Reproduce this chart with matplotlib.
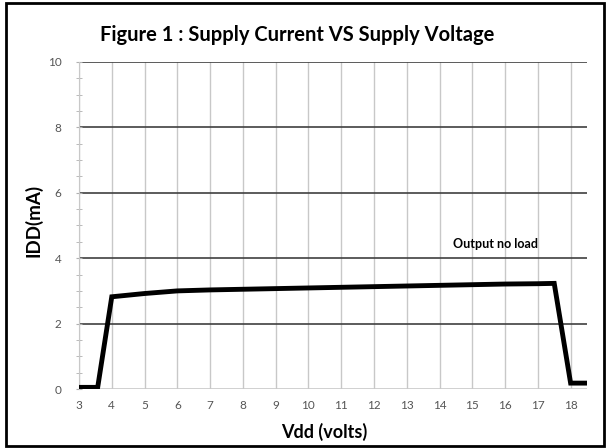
import matplotlib
matplotlib.use("Agg")
import matplotlib.pyplot as plt
from matplotlib.patches import Rectangle

# data
vdd = [3.0, 3.57, 4.0, 5.0, 6.0, 7.0, 8.0, 9.0, 10.0, 11.0, 12.0, 13.0, 14.0, 15.0, 16.0, 17.0, 17.5, 18.0, 18.5]
idd = [0.05, 0.05, 2.82, 2.92, 3.0, 3.03, 3.05, 3.07, 3.09, 3.11, 3.13, 3.15, 3.17, 3.19, 3.21, 3.22, 3.23, 0.18, 0.18]
x_ticks = list(range(3, 19))
y_ticks = [0, 2, 4, 6, 8, 10]

plt.rcParams['font.family'] = ['Lato', 'DejaVu Sans']

fig = plt.figure(figsize=(6.11, 4.48), dpi=100)
ax = fig.add_axes([79/611, 1-389/448, 508/611, 327/448])

# grid
for x in x_ticks:
    ax.axvline(x, color="#c8c8c8", lw=1, zorder=1)
for y in y_ticks:
    ax.axhline(y, color="#404040" if y > 0 else "#c8c8c8", lw=1.2, zorder=1)

ax.plot(vdd, idd, color="black", lw=3.5, solid_joinstyle="miter", zorder=3)

ax.set_xlim(3, 18.5)
ax.set_ylim(0, 10)
ax.set_xticks(x_ticks)
ax.set_yticks(y_ticks)
ax.set_yticks([v/2 for v in range(21)], minor=True)
ax.tick_params(axis="x", length=0, pad=8, labelsize=8.5, labelcolor="#555555")
ax.tick_params(axis="y", which="both", length=5, direction="inout", color="#b0b0b0", pad=10, labelsize=8.5, labelcolor="#555555")
for s in ["top", "right", "bottom"]:
    ax.spines[s].set_visible(False)
ax.spines["left"].set_color("#c8c8c8")

ax.text(14.4, 4.43, "Output no load", fontsize=9, fontweight="bold", va="center", ha="left")

fig.text(297/611, 1-35/448, "Figure 1 : Supply Current VS Supply Voltage", ha="center", va="center", fontsize=14.5, fontweight="bold")
fig.text(33/611, 1-220/448, "IDD(mA)", rotation=90, ha="center", va="center", fontsize=13.5, fontweight="bold")
fig.text(324/611, 1-432/448, "Vdd (volts)", ha="center", va="center", fontsize=13, fontweight="bold")

# outer frame
fig.patches.append(Rectangle((6/611, 2/448), 598/611, 443/448, transform=fig.transFigure,
                             fill=False, edgecolor="black", lw=2))

fig.savefig("out.png", dpi=100)
